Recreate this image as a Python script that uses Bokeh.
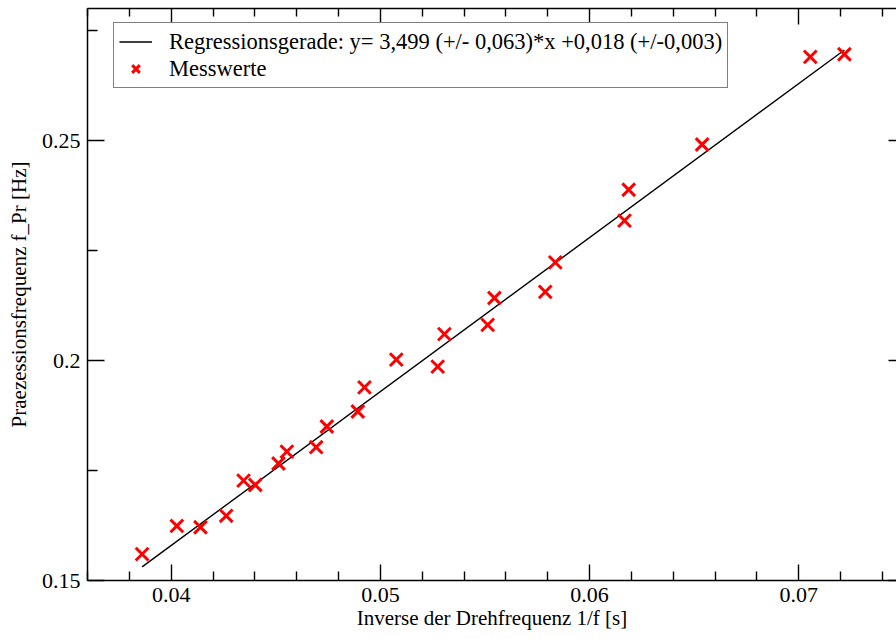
from bokeh.plotting import figure
from bokeh.models import (LinearAxis, FixedTicker, NumeralTickFormatter, CustomJSTickFormatter,
                          Legend, LegendItem, Range1d)
from bokeh.embed import file_html
from bokeh.resources import INLINE

# ---- data ----
inv_freq = [0.03861, 0.04027, 0.04140, 0.04263, 0.04346, 0.04402, 0.04513, 0.04553,
            0.04693, 0.04744, 0.04892, 0.04924, 0.05076, 0.05274, 0.05306, 0.05513,
            0.05545, 0.05788, 0.05836, 0.06167, 0.06187, 0.06538, 0.07055, 0.07218]
prec_freq = [0.1560, 0.1624, 0.1621, 0.1647, 0.1727, 0.1717, 0.1766, 0.1793,
             0.1803, 0.1850, 0.1884, 0.1939, 0.2002, 0.1986, 0.2060, 0.2081,
             0.2142, 0.2156, 0.2223, 0.2318, 0.2388, 0.2491, 0.2690, 0.2696]
fit_slope = 3.499
fit_intercept = 0.018
fit_x = [min(inv_freq), max(inv_freq)]
fit_y = [fit_slope * v + fit_intercept for v in fit_x]

x_major = [0.04, 0.05, 0.06, 0.07]
x_minor = [0.036, 0.038, 0.042, 0.044, 0.046, 0.048, 0.052, 0.054, 0.056, 0.058,
           0.062, 0.064, 0.066, 0.068, 0.072, 0.074]
y_major = [0.15, 0.2, 0.25]
y_minor = [0.175, 0.225, 0.275]

legend_fit = "Regressionsgerade: y= 3,499 (+/- 0,063)*x +0,018 (+/-0,003)"
legend_pts = "Messwerte"
x_title = "Inverse der Drehfrequenz 1/f [s]"
y_title = "Praezessionsfrequenz f_Pr [Hz]"

FONT = "Liberation Serif"

p = figure(width=896, height=639, output_backend="svg", toolbar_location=None,
           x_range=Range1d(0.036, 0.07467), y_range=Range1d(0.15, 0.28),
           min_border_left=87, min_border_right=0, min_border_top=8, min_border_bottom=59,
           x_axis_label=x_title, y_axis_label=y_title)
p.outline_line_color = None
p.grid.visible = False
p.background_fill_color = "white"
p.border_fill_color = "white"

r_fit = p.line(fit_x, fit_y, line_color="black", line_width=1.4)
r_pts = p.scatter(inv_freq, prec_freq, marker="x", size=18, line_color="#ff0000", line_width=3)

blank = CustomJSTickFormatter(code="return '';")

def style_axis(ax, major_in, minor_in, show_labels=True, line=True):
    ax.major_tick_in = major_in
    ax.major_tick_out = 0
    ax.minor_tick_in = minor_in
    ax.minor_tick_out = 0
    ax.major_tick_line_color = "black"
    ax.minor_tick_line_color = "black"
    ax.major_tick_line_width = 1.4
    ax.minor_tick_line_width = 1.4
    ax.axis_line_color = "black" if line else None
    ax.axis_line_width = 1.5
    if show_labels:
        ax.major_label_text_font = FONT
        ax.major_label_text_font_size = "22px"
        ax.major_label_text_color = "black"
        ax.axis_label_text_font = FONT
        ax.axis_label_text_font_size = "21px"
        ax.axis_label_text_font_style = "normal"
        ax.axis_label_text_color = "black"
    else:
        ax.formatter = blank
        ax.major_label_standoff = 0
        ax.axis_label = None

fmt = NumeralTickFormatter(format="0.0[0]")

xa = p.xaxis[0]
xa.ticker = FixedTicker(ticks=x_major, minor_ticks=x_minor)
xa.formatter = fmt
style_axis(xa, 16, 9)
xa.major_label_standoff = 7
xa.axis_label_standoff = 1

ya = p.yaxis[0]
ya.ticker = FixedTicker(ticks=y_major, minor_ticks=y_minor)
ya.formatter = fmt
style_axis(ya, 17, 10)
ya.major_label_standoff = 7
ya.axis_label_standoff = 8

top = LinearAxis(ticker=FixedTicker(ticks=x_major, minor_ticks=x_minor))
style_axis(top, 16, 8, show_labels=False)
p.add_layout(top, "above")

right = LinearAxis(ticker=FixedTicker(ticks=y_major, minor_ticks=y_minor))
style_axis(right, 8, 0, show_labels=False, line=False)
p.add_layout(right, "right")

legend = Legend(items=[LegendItem(label=legend_fit, renderers=[r_fit]),
                       LegendItem(label=legend_pts, renderers=[r_pts])],
                location=(26, 492))
legend.label_text_font = FONT
legend.label_text_font_size = "22.5px"
legend.label_text_color = "black"
legend.glyph_width = 33
legend.glyph_height = 27
legend.label_height = 27
legend.label_standoff = 17
legend.spacing = 0
legend.padding = 5
legend.margin = 0
legend.border_line_color = "black"
legend.border_line_width = 1.5
legend.background_fill_color = "white"
legend.background_fill_alpha = 1.0
p.add_layout(legend, "center")

open("out.html", "w").write(file_html(p, INLINE))
